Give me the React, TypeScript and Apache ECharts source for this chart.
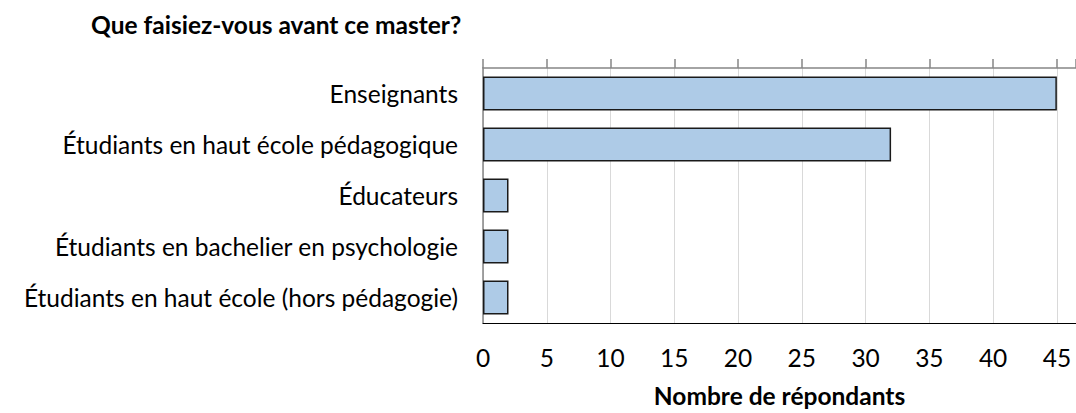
import React, { useEffect, useRef } from "react";
import * as echarts from "echarts";

const categories = [
  "Enseignants",
  "Étudiants en haut école pédagogique",
  "Éducateurs",
  "Étudiants en bachelier en psychologie",
  "Étudiants en haut école (hors pédagogie)",
];
const values = [45, 32, 2, 2, 2];
const titleText = "Que faisiez-vous avant ce master?";
const axisName = "Nombre de répondants";

const FONT = "Lato, 'Liberation Sans', sans-serif";
const FS = 24.5;

export default function App() {
  const ref = useRef<HTMLDivElement>(null);
  useEffect(() => {
    if (!ref.current) return;
    const chart = echarts.init(ref.current, undefined, { renderer: "svg" });
    chart.setOption({
      animation: false,
      backgroundColor: "#ffffff",
      textStyle: { fontFamily: FONT },
      title: {
        text: titleText,
        left: 91,
        top: 12,
        padding: 0,
        textStyle: { fontFamily: FONT, fontSize: FS, fontWeight: "bold", color: "#000" },
      },
      grid: { left: 483, right: -1, top: 68, bottom: 85, containLabel: false },
      xAxis: [
        {
          type: "value",
          position: "bottom",
          min: 0,
          max: 46.5,
          interval: 5,
          axisLine: { show: true, lineStyle: { color: "#000", width: 1 } },
          axisTick: { show: false },
          axisLabel: {
            show: true,
            showMaxLabel: false,
            margin: 22,
            fontSize: FS,
            color: "#000",
            fontFamily: FONT,
          },
          splitLine: { show: true, showMaxLine: false, lineStyle: { color: "#d9d9d9", width: 1 } },
          name: axisName,
          nameLocation: "middle",
          nameGap: 60,
          nameTextStyle: { fontFamily: FONT, fontSize: FS, fontWeight: "bold", color: "#000" },
        },
        {
          type: "value",
          position: "top",
          min: 0,
          max: 46.5,
          interval: 5,
          axisLine: { show: true, lineStyle: { color: "#868686", width: 1.5 } },
          axisTick: { show: true, inside: false, length: 9, lineStyle: { color: "#868686", width: 1.5 } },
          axisLabel: { show: false },
          splitLine: { show: false },
        },
      ],
      yAxis: {
        type: "category",
        inverse: true,
        data: categories,
        axisLine: { show: true, lineStyle: { color: "#868686", width: 1.5 } },
        axisTick: { show: false },
        axisLabel: { margin: 25, fontSize: FS, color: "#000", fontFamily: FONT },
        splitLine: { show: false },
      },
      series: [
        {
          type: "bar",
          xAxisIndex: 0,
          data: values,
          barWidth: "67%",
          itemStyle: { color: "#AECBE7", borderColor: "#1a1a1a", borderWidth: 1.5 },
        },
      ],
    });
    return () => chart.dispose();
  }, []);
  return (
    <div
      ref={ref}
      style={{ position: "fixed", left: 0, top: 0, width: 1076, height: 413, background: "#fff" }}
    />
  );
}
